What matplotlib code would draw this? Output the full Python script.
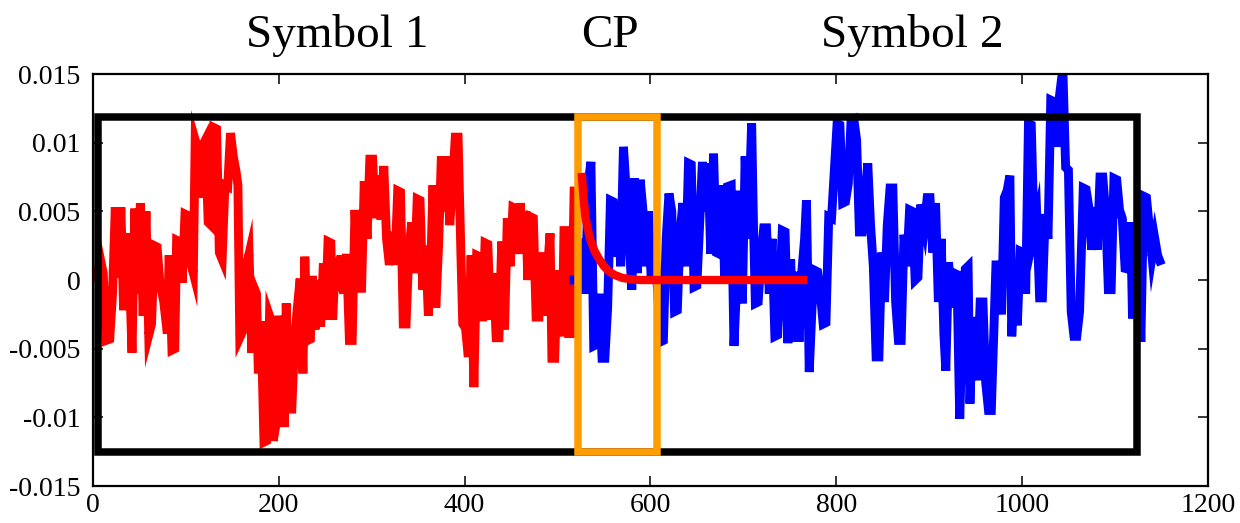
import matplotlib
matplotlib.use("Agg")
import matplotlib.pyplot as plt
from matplotlib.patches import Rectangle
from matplotlib.ticker import FixedLocator, FixedFormatter

# symbol 1 (red), values in units of 1e-3
red_x = [0, 4, 8, 11, 14, 18, 21, 24, 27, 30, 33, 36, 39, 42, 45, 48, 51, 54, 57, 60,
         63, 66, 69, 72, 76, 80, 82, 85, 88, 90, 93, 96, 99, 102, 105, 108, 110, 113, 116, 118,
         121, 124, 127, 130, 133, 136, 139, 142, 145, 148, 151, 154, 156, 158, 162, 165, 168, 171, 173, 176,
         178, 181, 184, 187, 190, 192, 194, 197, 200, 203, 206, 208, 211, 214, 217, 220, 223, 226, 228, 231,
         234, 236, 239, 242, 245, 248, 250, 253, 256, 258, 261, 264, 267, 270, 273, 276, 279, 282, 284, 287,
         289, 292, 295, 298, 301, 304, 307, 310, 313, 316, 319, 322, 325, 328, 331, 334, 337, 340, 343, 346,
         349, 352, 355, 358, 361, 364, 366, 369, 372, 375, 378, 381, 384, 387, 390, 393, 396, 398, 401, 404,
         407, 410, 413, 416, 419, 422, 425, 428, 431, 434, 437, 440, 443, 446, 449, 452, 455, 458, 460, 463,
         466, 468, 471, 474, 477, 480, 483, 486, 489, 492, 494, 497, 500, 502, 505, 507, 510, 512, 515, 518]
red_y = [0, 0.3, 1.5, 0.5, -4.4, -4.3, -1.0, 5.3, 0.2, 5.3, -2.2, 3.4, 1.0, -5.3, 5.2, -1.0, 5.6, -2.6, 5.0, -4.0,
         -3.2, 2.5, 2.4, -0.2, -1.5, -3.9, 1.8, -5.1, -5.0, 2.9, 2.8, -0.2, 4.8, 4.7, 1.3, 0.5, 10.2, 9.5, 6.0, 9.8,
         10.2, 4.2, 4.0, 11.1, 11.0, 2.0, 1.5, 6.9, 6.8, 10.7, 9.0, 7.9, 6.9, -4.2, -3.6, 1.0, 1.9, -5.3, -0.5, -1.0,
         -6.8, -3.0, -11.8, -11.7, -2.6, -3.0, -11.7, -10.5, -2.6, -7.6, -10.7, -1.7, -9.4, -9.4, -4.4, -2.0, 0.1, -6.8, 1.7, -4.4,
         -4.3, 0.3, -3.6, 0.0, -3.4, 1.2, -2.9, 2.8, 2.7, -2.9, 1.6, -0.8, 1.8, -1.0, 1.9, -4.4, -4.4, 5.1, 2.0, 1.8,
         -0.9, 7.2, 3.0, 8.8, 8.8, 4.5, 7.6, 4.4, 8.3, 3.0, 1.1, 3.5, 1.1, 6.5, 6.4, -3.2, -3.2, 2.0, 4.2, 0.5,
         5.9, 5.8, -0.7, 2.5, -2.6, 2.0, 6.9, -2.0, 2.5, 9.0, 5.0, 9.0, 4.0, 7.0, 10.4, 10.4, 2.0, -3.2, -3.5, -5.6,
         1.8, -7.8, 1.8, 1.7, -3.0, 2.7, 2.6, -2.9, 0.5, -4.2, -4.2, 2.8, -3.6, 4.5, 1.0, 5.3, 5.2, 1.9, 5.6, 2.2,
         5.0, 0.0, 4.6, 4.5, -2.7, -2.7, 2.0, -2.6, 0.5, 3.4, -5.7, -5.7, 0.7, -2.0, -4.1, 3.6, 3.6, -3.9, -3.9, 6.8]

# symbol 2 (blue)
blue_x = [513, 524, 527, 530, 533, 536, 539, 542, 545, 548, 551, 554, 557, 560, 563, 566, 568, 571, 574, 577,
          580, 583, 586, 589, 592, 595, 598, 601, 604, 608, 611, 614, 617, 620, 623, 626, 629, 632, 635, 638,
          641, 644, 647, 650, 653, 656, 659, 662, 665, 668, 671, 674, 677, 680, 683, 687, 690, 693, 696, 699,
          702, 705, 709, 711, 713, 716, 719, 722, 725, 728, 731, 734, 737, 740, 742, 745, 748, 751, 754, 757,
          760, 763, 766, 768, 771, 774, 777, 780, 783, 786, 789, 792, 795, 798, 801, 804, 807, 810, 813, 816,
          819, 822, 825, 828, 831, 834, 837, 840, 843, 846, 849, 852, 855, 858, 861, 864, 867, 870, 873, 876,
          879, 882, 885, 888, 891, 895, 898, 901, 904, 907, 910, 913, 916, 918, 921, 924, 927, 930, 933, 936,
          939, 942, 944, 947, 950, 952, 955, 958, 961, 964, 967, 970, 972, 975, 978, 981, 984, 987, 989, 992,
          995, 998, 1001, 1004, 1007, 1010, 1013, 1016, 1019, 1022, 1025, 1028, 1031, 1034, 1037, 1040, 1044, 1047, 1050, 1053,
          1056, 1059, 1062, 1066, 1069, 1072, 1075, 1078, 1081, 1084, 1087, 1090, 1093, 1096, 1099, 1102, 1105, 1108, 1111, 1114,
          1117, 1119, 1122, 1125, 1128, 1131, 1134, 1137, 1140, 1143, 1146, 1150]
blue_y = [0, 0, 3.0, -1.0, 7.0, 8.6, -4.8, -4.7, -1.0, -5.7, -5.7, -2.0, 5.8, 5.7, 1.7, 4.7, 1.0, 9.7, 6.5, 3.0,
          -0.7, 7.4, 0.5, 7.3, 5.1, 1.0, 5.0, -0.2, 3.0, -1.0, -4.5, -4.4, 3.0, 6.3, 5.0, -2.3, -2.2, 3.5, 5.6, 1.0,
          8.5, 8.4, -0.5, -0.4, 4.0, 8.6, 5.0, 8.5, 1.9, 9.2, 2.0, 1.9, 6.9, 0.2, 6.8, 6.9, -4.8, 0.0, 6.5, -1.7,
          9.0, 3.0, 11.4, 4.0, -1.7, -1.6, 1.5, 3.8, 3.8, -1.0, 3.0, -4.1, -4.0, 0.5, 3.6, 3.5, -4.6, 1.5, -4.5, 0.6,
          -4.5, 0.6, 3.0, 5.8, -6.7, -2.0, 0.7, 0.6, -1.0, -3.2, -3.1, 4.6, 4.5, 8.0, 11.4, 11.3, 5.6, 5.7, 7.0, 11.6,
          11.7, 10.2, 3.5, 3.5, 6.0, 8.5, 4.0, 1.0, -5.6, -5.6, 2.0, -1.6, 4.0, 6.7, 6.7, -1.6, -4.4, -4.4, 3.3, 1.0,
          5.1, 5.0, 0.0, 0.2, 5.5, 4.0, 6.0, 6.0, 2.0, 5.6, -1.6, 3.0, -4.0, -6.6, 1.3, -2.0, 0.5, 0.4, -10.1, -3.0,
          0.8, 1.0, -9.0, -2.7, -6.0, -7.3, -1.6, -1.6, -7.5, -9.5, -9.5, -3.0, 1.1, 1.1, -2.5, 6.0, 6.5, 7.6, -4.1, 0.5,
          -3.3, 2.1, 2.0, -1.0, 11.4, 11.3, 3.5, 4.5, -1.3, -1.3, 4.8, 3.0, 13.1, 13.0, 9.7, 13.2, 15.4, 8.2, 8.0, -2.3,
          -4.1, -4.1, -2.3, 6.7, 6.6, 5.3, 2.2, 5.3, 2.2, 7.5, 7.5, 5.0, -0.7, -0.7, 7.4, 7.3, 5.1, 4.5, 0.85, 0.8,
          4.2, -2.8, 0.5, 1.0, -4.5, 6.1, 6.0, 3.9, 1.7, 3.0, 1.8, 1.1]

# decaying correlation (red, thick)
decay_x = [526, 528, 530, 533, 536, 540, 545, 550, 556, 562, 570, 580, 590, 600, 769]
decay_y = [7.8, 6.0, 4.6, 3.6, 2.8, 2.1, 1.5, 1.0, 0.6, 0.35, 0.15, 0.05, 0.0, 0.0, 0.0]

# boxes: (x0, x1, y0, y1)
box_symbols = (5, 1124, -12.5, 11.9)
box_cp = (522, 607, -12.5, 11.9)

labels = ["Symbol 1", "CP", "Symbol 2"]
label_x = [263, 556, 882]

x_ticks = [0, 200, 400, 600, 800, 1000, 1200]
y_ticks = [-0.015, -0.01, -0.005, 0, 0.005, 0.01, 0.015]
y_tick_labels = ["-0.015", "-0.01", "-0.005", "0", "0.005", "0.01", "0.015"]

plt.rcParams['font.family'] = ['Liberation Serif', 'DejaVu Serif']

fig = plt.figure(figsize=(12.4, 5.23), dpi=100)
ax = fig.add_axes([0.075, 0.0707, 0.899, 0.7878])

s = 1e-3
ax.plot(red_x, [v * s for v in red_y], color='#ff0000', lw=6.4,
        solid_joinstyle='miter', solid_capstyle='butt', zorder=2)
ax.plot(blue_x, [v * s for v in blue_y], color='#0000ff', lw=6.4,
        solid_joinstyle='miter', solid_capstyle='butt', zorder=2)

x0, x1, y0, y1 = box_symbols
ax.add_patch(Rectangle((x0, y0 * s), x1 - x0, (y1 - y0) * s, fill=False,
                       edgecolor='black', lw=5.4, joinstyle='miter', zorder=3))
x0, x1, y0, y1 = box_cp
ax.add_patch(Rectangle((x0, y0 * s), x1 - x0, (y1 - y0) * s, fill=False,
                       edgecolor='#ff9d00', lw=5.4, joinstyle='miter', zorder=4))
ax.plot(decay_x, [v * s for v in decay_y], color='#ff0000', lw=6.0,
        solid_capstyle='butt', zorder=5)

ax.set_xlim(0, 1200)
ax.set_ylim(-0.015, 0.015)
ax.xaxis.set_major_locator(FixedLocator(x_ticks))
ax.yaxis.set_major_locator(FixedLocator(y_ticks))
ax.yaxis.set_major_formatter(FixedFormatter(y_tick_labels))
ax.tick_params(direction='in', length=7, width=1.1, labelsize=20, pad=9,
               top=True, right=True)
ax.tick_params(axis='x', pad=5)
for sp in ax.spines.values():
    sp.set_linewidth(1.6)

for lab, lx in zip(labels, label_x):
    ax.text(lx, 1.066, lab, transform=ax.get_xaxis_transform(),
            ha='center', va='baseline', fontsize=34)

fig.savefig('out.png', dpi=100)
